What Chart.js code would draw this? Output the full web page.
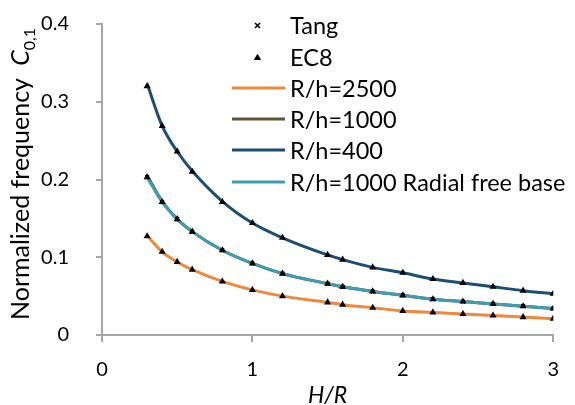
<!DOCTYPE html>
<html>
<head>
<meta charset="utf-8">
<script src="https://cdn.jsdelivr.net/npm/chart.js@4.4.1/dist/chart.umd.min.js"></script>
<style>
    body { margin: 0; background: #fff; }
    #wrap { position: relative; width: 575px; height: 405px; font-family: Lato, "Open Sans", sans-serif; }
    #yTitle {
        position: absolute; left: 21px; top: 174px;
        transform: translate(-50%, -50%) rotate(-90deg);
        white-space: nowrap; font-size: 25px; color: #000;
    }
    #yTitle sub { font-size: 16px; }
    #legend { position: absolute; left: 0; top: 0; font-size: 23.5px; color: #000; }
    .item { position: absolute; left: 232px; height: 28px; white-space: nowrap; }
    .item svg { position: absolute; left: 0; top: 0; }
    .item span { position: absolute; left: 58px; top: 0; line-height: 28px; }
</style>
</head>
<body>
<div id="wrap">
    <canvas id="chart" width="575" height="405"></canvas>
    <div id="yTitle">Normalized frequency&nbsp; <i>C</i><sub>0,1</sub></div>
    <div id="legend"></div>
</div>
<script>
// ---- données ----
const hOverR = [0.3, 0.4, 0.5, 0.6, 0.8, 1.0, 1.2, 1.5, 1.6, 1.8, 2.0, 2.2, 2.4, 2.6, 2.8, 3.0];

const rh2500 = [0.128, 0.107, 0.094, 0.084, 0.069, 0.058, 0.050, 0.042, 0.039, 0.035, 0.031, 0.029, 0.027, 0.025, 0.023, 0.021];
const rh1000 = [0.205, 0.172, 0.149, 0.133, 0.109, 0.092, 0.079, 0.066, 0.062, 0.056, 0.051, 0.046, 0.043, 0.040, 0.037, 0.034];
const rh400 = [0.323, 0.269, 0.236, 0.211, 0.172, 0.144, 0.125, 0.103, 0.097, 0.087, 0.080, 0.072, 0.067, 0.062, 0.057, 0.053];
const rhRadial = [0.203, 0.171, 0.149, 0.133, 0.109, 0.092, 0.079, 0.066, 0.062, 0.056, 0.051, 0.046, 0.043, 0.040, 0.037, 0.034];

// points de comparaison (Tang, EC8) sur les trois courbes
const tangPts = [0.203, 0.171, 0.149, 0.133, 0.109, 0.092, 0.079, 0.066, 0.062, 0.056, 0.051, 0.046, 0.043, 0.040, 0.037, 0.034];
const ec8Low = [0.127, 0.107, 0.094, 0.084, 0.069, 0.058, 0.050, 0.042, 0.039, 0.035, 0.031, 0.029, 0.027, 0.025, 0.023, 0.021];
const ec8Mid = [0.203, 0.171, 0.149, 0.133, 0.109, 0.092, 0.079, 0.066, 0.062, 0.056, 0.051, 0.046, 0.043, 0.040, 0.037, 0.034];
const ec8High = [0.320, 0.269, 0.236, 0.210, 0.171, 0.144, 0.125, 0.103, 0.097, 0.087, 0.080, 0.072, 0.067, 0.062, 0.057, 0.053];

const xTicks = [0, 1, 2, 3];
const yTicks = [0, 0.1, 0.2, 0.3, 0.4];
const xLabels = ["0", "1", "2", "3"];
const yLabels = ["0", "0.1", "0.2", "0.3", "0.4"];

const lineNames = ["R/h=2500", "R/h=1000", "R/h=400", "R/h=1000 Radial free base"];
const lineColors = ["#f0883a", "#5f5437", "#1a4e72", "#3c9db3"];

function toXY(values) {
    return values.map(function (v, i) { return { x: hOverR[i], y: v }; });
}

function lineSet(label, values, color, order) {
    return {
        label: label,
        data: toXY(values),
        borderColor: color,
        backgroundColor: color,
        borderWidth: 3,
        pointRadius: 0,
        cubicInterpolationMode: "monotone",
        fill: false,
        order: order
    };
}

function markerSet(label, points, style) {
    return {
        label: label,
        data: points,
        showLine: false,
        pointStyle: style,
        pointRadius: 2.6,
        borderWidth: 1.5,
        borderColor: "#000",
        backgroundColor: "#000",
        order: 0
    };
}

const tangData = toXY(tangPts);
const ec8Data = toXY(ec8Low).concat(toXY(ec8Mid), toXY(ec8High));

const axisGray = "#a6a6a6";
const fontFamily = "Lato, 'Open Sans', sans-serif";

new Chart(document.getElementById("chart"), {
    type: "line",
    data: {
        datasets: [
            markerSet("Tang", tangData, "crossRot"),
            markerSet("EC8", ec8Data, "triangle"),
            lineSet(lineNames[0], rh2500, lineColors[0], 4),
            lineSet(lineNames[1], rh1000, lineColors[1], 3),
            lineSet(lineNames[2], rh400, lineColors[2], 2),
            lineSet(lineNames[3], rhRadial, lineColors[3], 1)
        ]
    },
    options: {
        responsive: false,
        animation: false,
        layout: { padding: { top: 24, right: 21, left: 0, bottom: 0 } },
        plugins: { legend: { display: false }, tooltip: { enabled: false } },
        scales: {
            x: {
                type: "linear",
                min: 0,
                max: 3,
                afterBuildTicks: function (s) { s.ticks = xTicks.map(function (v) { return { value: v }; }); },
                afterFit: function (s) { s.height = 70; },
                ticks: {
                    color: "#000",
                    font: { family: fontFamily, size: 20 },
                    padding: 16,
                    maxRotation: 0,
                    callback: function (v) { return xLabels[xTicks.indexOf(v)]; }
                },
                grid: { drawOnChartArea: false, drawTicks: true, tickLength: 7, color: axisGray, lineWidth: 2 },
                border: { display: true, color: axisGray, width: 2 },
                title: {
                    display: true,
                    text: "H/R",
                    color: "#000",
                    font: { family: fontFamily, size: 23, style: "italic", lineHeight: 1 },
                    padding: { top: 0, bottom: -2 }
                }
            },
            y: {
                type: "linear",
                min: 0,
                max: 0.4,
                afterBuildTicks: function (s) { s.ticks = yTicks.map(function (v) { return { value: v }; }); },
                afterFit: function (s) {
                    // le grand retrait des libellés ne doit pas pousser la zone du graphique vers le bas
                    s.width = 102;
                    s.paddingTop = 12;
                    s.paddingBottom = 0;
                },
                ticks: {
                    color: "#000",
                    font: { family: fontFamily, size: 20 },
                    padding: 27,
                    callback: function (v) { return yLabels[yTicks.indexOf(v)]; }
                },
                grid: { drawOnChartArea: false, drawTicks: true, tickLength: 6, color: axisGray, lineWidth: 2 },
                border: { display: true, color: axisGray, width: 2 }
            }
        }
    }
});

// ---- légende HTML placée dans la zone du graphique ----
const legendRows = [
    { label: "Tang", kind: "cross", y: 25 },
    { label: "EC8", kind: "tri", y: 57 },
    { label: lineNames[0], kind: "line", color: lineColors[0], y: 88 },
    { label: lineNames[1], kind: "line", color: lineColors[1], y: 119 },
    { label: lineNames[2], kind: "line", color: lineColors[2], y: 150 },
    { label: lineNames[3], kind: "line", color: lineColors[3], y: 182 }
];

const legend = document.getElementById("legend");
legendRows.forEach(function (row) {
    const item = document.createElement("div");
    item.className = "item";
    item.style.top = (row.y - 14) + "px";
    let svg = '<svg width="56" height="28">';
    if (row.kind === "line") {
        svg += '<line x1="0" y1="14" x2="53" y2="14" stroke="' + row.color + '" stroke-width="3"/>';
    } else if (row.kind === "cross") {
        svg += '<path d="M23 12 L28 17 M28 12 L23 17" stroke="#000" stroke-width="1.6"/>';
    } else {
        svg += '<path d="M25.5 11.5 L28.5 16.5 L22.5 16.5 Z" fill="#000" stroke="#000" stroke-width="1"/>';
    }
    svg += "</svg>";
    item.innerHTML = svg + "<span>" + row.label + "</span>";
    legend.appendChild(item);
});
</script>
</body>
</html>
